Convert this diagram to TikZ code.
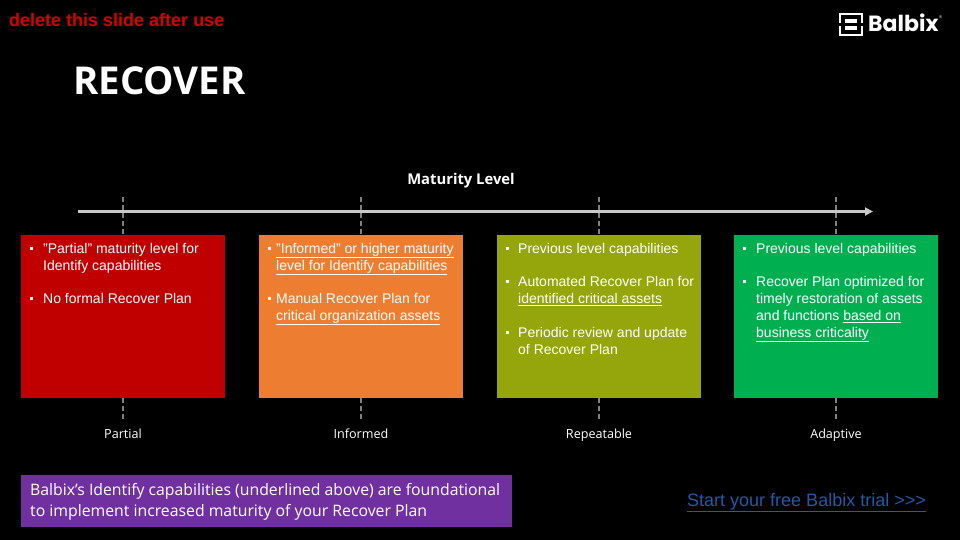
\documentclass[tikz,border=0pt]{standalone}
\usepackage{fontspec}
\usepackage{xcolor}
\usetikzlibrary{arrows.meta, positioning}
\setmainfont{Liberation Sans}
\newfontfamily\slidefont{Open Sans}
\newfontfamily\logofont{Poppins}
\definecolor{partialred}{HTML}{C00000}
\definecolor{informedorange}{HTML}{ED7D31}
\definecolor{repeatableolive}{HTML}{95A60D}
\definecolor{adaptivegreen}{HTML}{00AF50}
\definecolor{notepurple}{HTML}{7030A0}
\definecolor{linkblue}{HTML}{2458A8}
\definecolor{axisgray}{HTML}{C8C8C8}
\definecolor{tickgray}{HTML}{808080}
\tikzset{
  levelbox/.style={minimum width=204pt, minimum height=163pt, inner sep=0pt},
  leveltext/.style={anchor=base west, inner sep=0pt, align=left, text=white, font=\fontsize{14}{17}\selectfont},
  levelname/.style={anchor=base, text=white, inner sep=0pt, font=\slidefont\fontsize{12.6}{15}\selectfont},
  bulletmark/.style={fill=white, minimum size=3pt, inner sep=0pt},
  leveltick/.style={tickgray, line width=1.5pt, dash pattern=on 5pt off 3pt},
}
\begin{document}
\begin{tikzpicture}[x=1pt, y=-1pt]
\useasboundingbox (0,0) rectangle (960,540);
\fill[black] (0,0) rectangle (960,540);

% Header
\node[anchor=base west, inner sep=0pt, text=red!85!black, font=\bfseries\fontsize{18}{21}\selectfont] (delnote) at (9,27) {delete this slide after use};
\node[anchor=base west, inner sep=0pt, text=white, font=\slidefont\bfseries\fontsize{38.4}{44}\selectfont] (title) at (73,95) {RECOVER};
\node[anchor=base, text=white, inner sep=0pt, font=\slidefont\bfseries\fontsize{14.8}{17}\selectfont] (axistitle) at (461,184) {Maturity Level};

% Logo
\draw[white, line width=2pt] (840,14) rectangle (862,35);
\fill[white] (845,19.5) rectangle (857,23);
\fill[white] (845,26.5) rectangle (857,30);
\fill[black] (838,23) rectangle (845,26.5);
\fill[black] (857,23) rectangle (864,26.5);
\node[anchor=base west, inner sep=0pt, text=white, font=\logofont\bfseries\fontsize{22}{24}\selectfont] (logotext) at (868,32) {Balbix};
\node[anchor=base west, inner sep=0pt, text=white, font=\fontsize{4}{5}\selectfont] (logomark) at (939,19) {®};

% Boxes
\node[levelbox, fill=partialred, anchor=north west] (partial) at (21,235) {};
\node[levelbox, fill=informedorange, anchor=north west] (informed) at (259,235) {};
\node[levelbox, fill=repeatableolive, anchor=north west] (repeatable) at (497,235) {};
\node[levelbox, fill=adaptivegreen, anchor=north west] (adaptive) at (734,235) {};

% Axis
\coordinate (axisstart) at (78,211.5);
\coordinate (axisend) at (873,211.5);
\foreach \lvl/\lx/\ln in {partial/123/Partial, informed/361/Informed, repeatable/599/Repeatable, adaptive/836/Adaptive} {
  \coordinate (\lvl top) at (\lx,197);
  \node[levelname] (\lvl name) at (\lx,438) {\ln};
  \coordinate (\lvl low) at (\lx,420);
  \draw[leveltick] (\lvl top) -- (\lx,235);
  \draw[leveltick] (\lx,398) -- (\lvl low);
}
\draw[axisgray, line width=2.6pt, -{Triangle[length=8pt, width=8pt]}] (axisstart) -- (axisend);

% Partial
\node[bulletmark] (pa) at (31.5,248) {};
\node[leveltext] (patext) at (43,270.2) {"Partial" maturity level for\\Identify capabilities};
\node[bulletmark] (pb) at (31.5,298) {};
\node[leveltext] (pbtext) at (43,303.2) {No formal Recover Plan};

% Informed
\node[bulletmark] (ia) at (269,248) {};
\node[leveltext] (iatext) at (276,270.2) {\underline{"Informed" or higher maturity}\\\underline{level for Identify capabilities}};
\node[bulletmark] (ib) at (269,298) {};
\node[leveltext] (ibtext) at (276,320.2) {Manual Recover Plan for\\\underline{critical organization assets}};

% Repeatable
\node[bulletmark] (ra) at (507,248) {};
\node[leveltext] (ratext) at (518,253.2) {Previous level capabilities};
\node[bulletmark] (rb) at (507,281) {};
\node[leveltext] (rbtext) at (518,303.2) {Automated Recover Plan for\\\underline{identified critical assets}};
\node[bulletmark] (rc) at (507,332) {};
\node[leveltext] (rctext) at (518,354.2) {Periodic review and update\\of Recover Plan};

% Adaptive
\node[bulletmark] (aa) at (744.5,248) {};
\node[leveltext] (aatext) at (756,253.2) {Previous level capabilities};
\node[bulletmark] (ab) at (744.5,281) {};
\node[leveltext] (abtext) at (756,337.2) {Recover Plan optimized for\\timely restoration of assets\\and functions \underline{based on}\\\underline{business criticality}};

% Footer
\node[fill=notepurple, anchor=north west, minimum width=491pt, minimum height=52pt, inner sep=0pt] (notebox) at (21,475) {};
\node[anchor=base west, inner sep=0pt, align=left, text=white, font=\slidefont\fontsize{15.8}{21}\selectfont] (notetext) at (30,516.8) {Balbix’s Identify capabilities (underlined above) are foundational\\to implement increased maturity of your Recover Plan};
\node[anchor=base west, inner sep=0pt, text=linkblue, font=\fontsize{18}{21}\selectfont] (triallink) at (687,506.2) {\underline{Start your free Balbix trial >{}>{}>}};
\end{tikzpicture}
\end{document}
